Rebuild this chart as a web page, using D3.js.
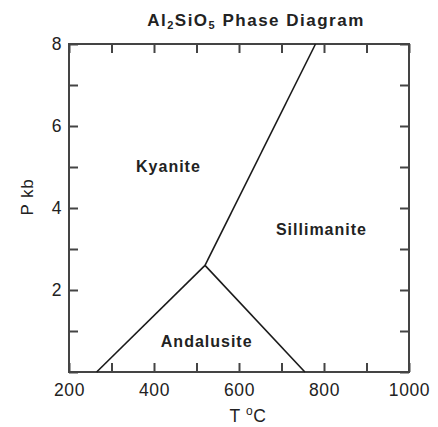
<!DOCTYPE html>
<html>
<head>
<meta charset="utf-8">
<script src="https://cdn.jsdelivr.net/npm/d3@7/dist/d3.min.js"></script>
<style>
  html, body { margin: 0; padding: 0; background: #fff; }
  svg text { font-family: "Liberation Sans", Arial, sans-serif; fill: #222; }
</style>
</head>
<body>
<svg id="chart" width="438" height="427"></svg>
<script>
// ---- data ----
const xDomain = [200, 1000];
const yDomain = [0, 8];
const xTicks = [200, 300, 400, 500, 600, 700, 800, 900, 1000];
const xTickLabels = [200, 400, 600, 800, 1000];
const yTicks = [0, 1, 2, 3, 4, 5, 6, 7, 8];
const yTickLabels = [2, 4, 6, 8];
// phase boundaries (T in °C, P in kb)
const kyaniteAndalusite = [[265, 0], [520, 2.6]];
const andalusiteSillimanite = [[520, 2.6], [755, 0]];
const kyaniteSillimanite = [[520, 2.6], [780, 8]];
const phaseLabels = ["Kyanite", "Sillimanite", "Andalusite"];
const phaseLabelPos = [[434, 4.88], [794, 3.34], [524, 0.61]];

// ---- layout ----
const svg = d3.select("#chart");
const L = 69, R = 409, T = 44, B = 372;
const x = d3.scaleLinear().domain(xDomain).range([L, R]);
const y = d3.scaleLinear().domain(yDomain).range([B, T]);
const ink = "#444";
const tick = 9;

function styleAxis(g) {
  g.select(".domain").remove();
  g.selectAll(".tick line").attr("stroke", ink).attr("stroke-width", 2);
  g.selectAll(".tick text").attr("fill", "#222").attr("font-size", 17.5)
    .attr("font-family", "Liberation Sans, Arial, sans-serif").attr("letter-spacing", 0.6);
}

svg.append("g").attr("transform", `translate(0,${B})`)
  .call(d3.axisBottom(x).tickValues(xTicks).tickSize(-tick).tickPadding(12)
    .tickFormat(d => xTickLabels.includes(d) ? d : ""))
  .call(styleAxis);
svg.append("g").attr("transform", `translate(0,${T})`)
  .call(d3.axisTop(x).tickValues(xTicks).tickSize(-tick).tickFormat(""))
  .call(styleAxis);
svg.append("g").attr("transform", `translate(${L},0)`)
  .call(d3.axisLeft(y).tickValues(yTicks).tickSize(-tick).tickPadding(7)
    .tickFormat(d => yTickLabels.includes(d) ? d : ""))
  .call(styleAxis);
svg.append("g").attr("transform", `translate(${R},0)`)
  .call(d3.axisRight(y).tickValues(yTicks).tickSize(-tick).tickFormat(""))
  .call(styleAxis);

// frame
svg.append("rect").attr("x", L).attr("y", T).attr("width", R - L).attr("height", B - T)
  .attr("fill", "none").attr("stroke", ink).attr("stroke-width", 2);

// boundaries
const line = d3.line().x(d => x(d[0])).y(d => y(d[1]));
[kyaniteAndalusite, andalusiteSillimanite, kyaniteSillimanite].forEach(seg => {
  svg.append("path").attr("d", line(seg)).attr("fill", "none")
    .attr("stroke", "#1a1a1a").attr("stroke-width", 1.6);
});

// phase labels
phaseLabels.forEach((t, i) => {
  svg.append("text").attr("x", x(phaseLabelPos[i][0])).attr("y", y(phaseLabelPos[i][1]))
    .attr("text-anchor", "middle").attr("font-size", 16).attr("font-weight", "bold")
    .attr("letter-spacing", 1).text(t);
});

// title
const title = svg.append("text").attr("x", 256).attr("y", 26).attr("text-anchor", "middle")
  .attr("font-size", 17).attr("font-weight", "bold").attr("letter-spacing", 1.5);
title.append("tspan").text("Al");
title.append("tspan").attr("font-size", 11).attr("dy", 3).text("2");
title.append("tspan").attr("dy", -3).text("SiO");
title.append("tspan").attr("font-size", 11).attr("dy", 3).text("5");
title.append("tspan").attr("dy", -3).text(" Phase Diagram");

// x label
const xl = svg.append("text").attr("x", 248).attr("y", 422).attr("text-anchor", "middle")
  .attr("font-size", 17.5).attr("letter-spacing", 0.6);
xl.append("tspan").text("T ");
xl.append("tspan").attr("font-size", 12).attr("dy", -7).text("o");
xl.append("tspan").attr("dy", 7).text("C");

// y label
svg.append("text").attr("transform", "translate(33,197) rotate(-90)")
  .attr("text-anchor", "middle").attr("font-size", 17).attr("letter-spacing", 0.8).text("P kb");
</script>
</body>
</html>
